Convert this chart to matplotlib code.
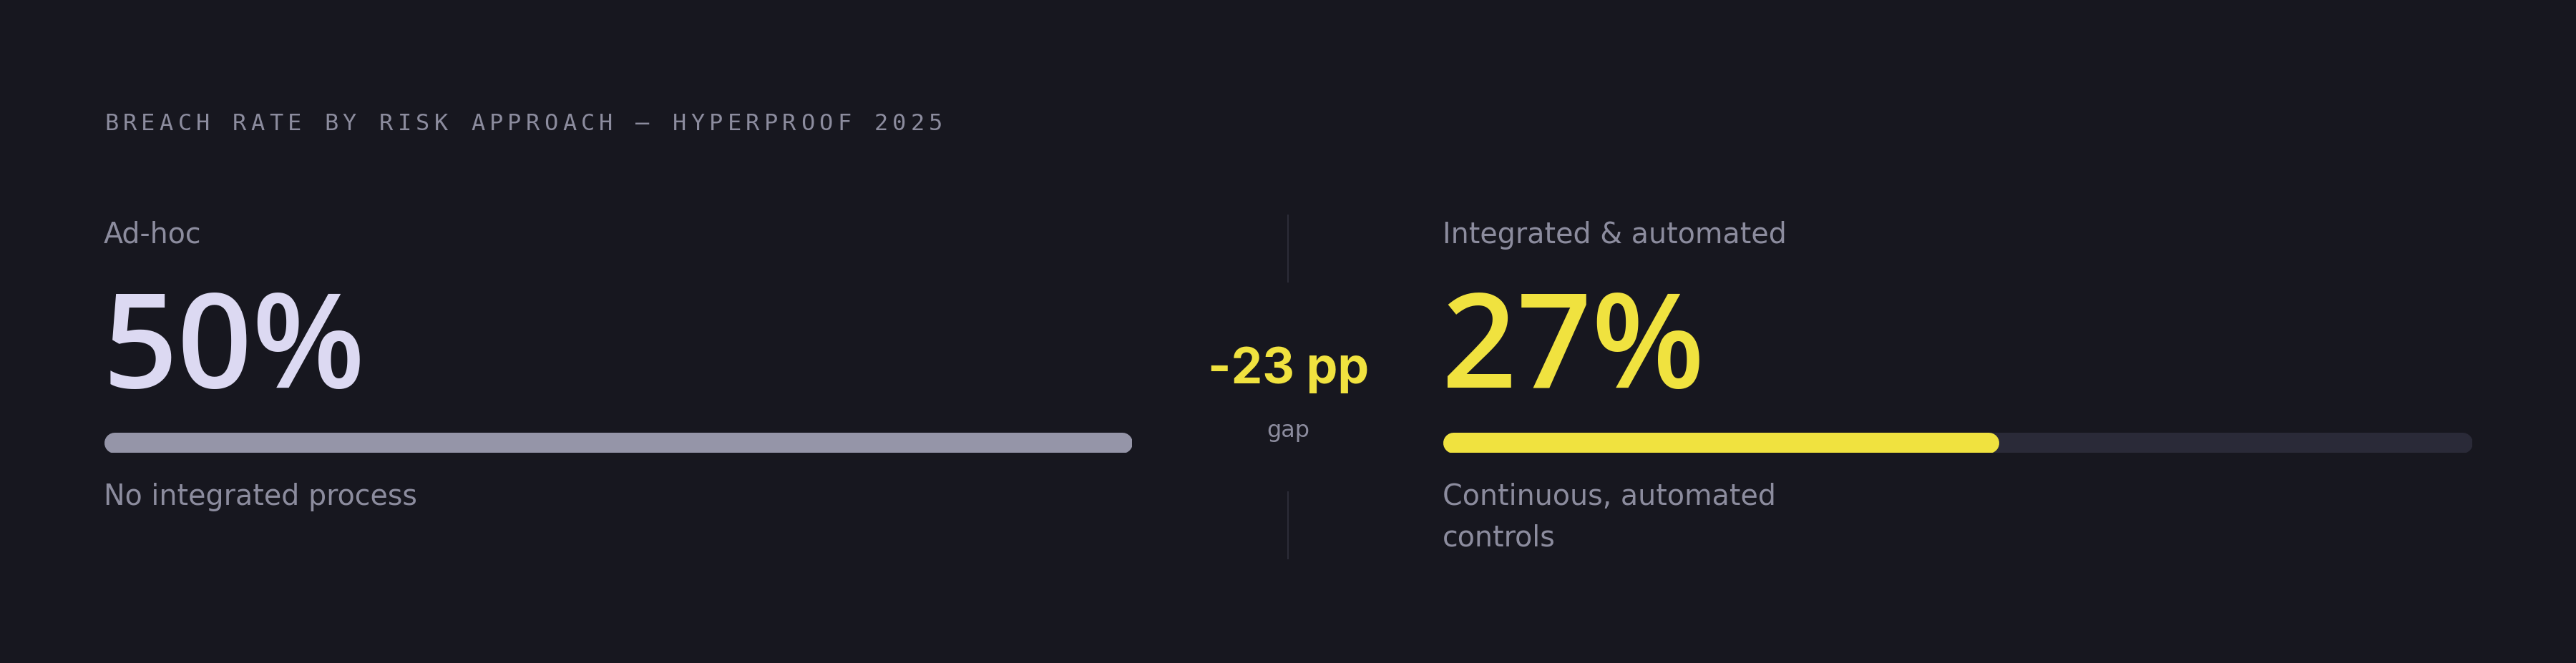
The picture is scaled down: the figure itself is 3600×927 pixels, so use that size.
import matplotlib
matplotlib.use("Agg")
import matplotlib.pyplot as plt

# data
groups = ["Ad-hoc", "Integrated & automated"]
rates = [50, 27]
notes = [["No integrated process"], ["Continuous, automated", "controls"]]
scale_max = 50
gap_label = "-23 pp"
title = "BREACH RATE BY RISK APPROACH \u2014 HYPERPROOF 2025"

BG = "#17171f"
MUTED = "#8c8c9e"
LAVENDER = "#dcd9f2"
YELLOW = "#f0e23f"
GREY_BAR = "#9595a8"
TRACK = "#2a2a38"
RULE = "#2c2c38"

W, H = 3600, 927
fig = plt.figure(figsize=(W / 100, H / 100), dpi=100, facecolor=BG)
base = fig.add_axes([0, 0, 1, 1])
base.set_xlim(0, W)
base.set_ylim(H, 0)
base.axis("off")
base.set_facecolor(BG)

# letter-spaced title
pitch = 25.6
for i, ch in enumerate(title):
    base.text(146 + i * pitch, 182, ch, fontsize=23, family="DejaVu Sans Mono",
              color=MUTED, ha="left", va="baseline")

panels = [(145, 1582, LAVENDER, GREY_BAR), (2016, 3455, YELLOW, YELLOW)]
bar_h = 29
bar_y = 618.5
for (x0, x1, num_col, bar_col), name, val, note in zip(panels, groups, rates, notes):
    base.text(x0, 340, name, fontsize=28.5, family="DejaVu Sans", color=MUTED, va="baseline")
    base.text(x0 - 1, 542, f"{val}%", fontsize=132, family="Open Sans", weight="semibold",
              color=num_col, va="baseline")
    for j, line in enumerate(note):
        base.text(x0, 706 + j * 58, line, fontsize=28.5, family="DejaVu Sans",
                  color=MUTED, va="baseline")

    ax = fig.add_axes([x0 / W, 1 - (bar_y + bar_h / 2) / H, (x1 - x0) / W, bar_h / H])
    ax.set_xlim(0, scale_max)
    ax.set_ylim(-1, 1)
    ax.axis("off")
    lw = bar_h * 72 / 100
    r = (bar_h / 2) * scale_max / (x1 - x0)
    ax.plot([r, scale_max - r], [0, 0], color=TRACK, lw=lw, solid_capstyle="round")
    ax.plot([r, val - r], [0, 0], color=bar_col, lw=lw, solid_capstyle="round")

# centre divider + gap
base.plot([1800, 1800], [301, 394], color=RULE, lw=1.5)
base.plot([1800, 1800], [688, 781], color=RULE, lw=1.5)
base.text(1801, 536, gap_label, fontsize=50, family="Inter", weight="bold",
          color=YELLOW, ha="center", va="baseline")
base.text(1800, 611, "gap", fontsize=23, family="DejaVu Sans", color=MUTED,
          ha="center", va="baseline")

fig.savefig("out.png", dpi=100, facecolor=BG)
